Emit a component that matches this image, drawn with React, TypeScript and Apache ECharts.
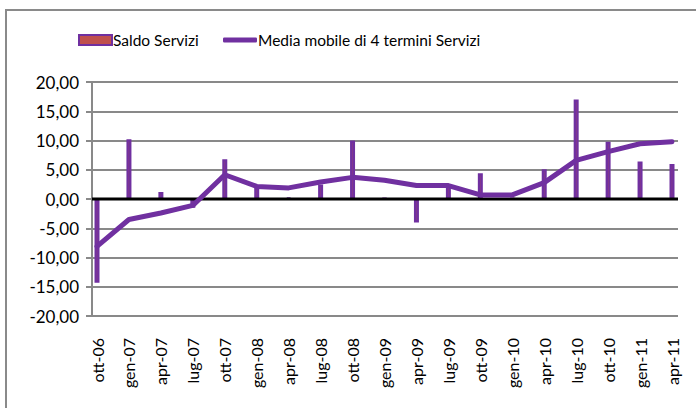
import React, { useEffect, useRef } from "react";
import * as echarts from "echarts";

const categories = ["ott-06","gen-07","apr-07","lug-07","ott-07","gen-08","apr-08","lug-08","ott-08","gen-09","apr-09","lug-09","ott-09","gen-10","apr-10","lug-10","ott-10","gen-11","apr-11"];
const saldoServizi = [-14.3, 10.2, 1.2, -1.5, 6.8, 2.0, 0.2, 2.5, 10.0, 0.1, -4.0, 2.3, 4.4, 0.1, 5.1, 17.0, 9.8, 6.4, 6.0];
const mediaMobile = [-8.1, -3.5, -2.4, -1.1, 4.15, 2.15, 1.9, 2.9, 3.7, 3.2, 2.3, 2.3, 0.7, 0.7, 2.8, 6.6, 8.1, 9.45, 9.8];
const zeroLine = [[0, 0], [1, 0]];

const PURPLE = "#7030A0";
const RED = "#C0504D";
const GRID = "#898989";
const FONT = "Lato";

export default function App() {
  const ref = useRef<HTMLDivElement>(null);
  useEffect(() => {
    document.body.style.margin = "0";
    const chart = echarts.init(ref.current!, null, { renderer: "svg" });
    const fmt = (v: number) => v.toFixed(2).replace(".", ",");
    chart.setOption({
      animation: false,
      backgroundColor: "#ffffff",
      textStyle: { fontFamily: FONT },
      graphic: [
        {
          type: "rect",
          shape: { x: 6, y: 10, width: 700, height: 410 },
          style: { fill: "none", stroke: "#8a8a8a", lineWidth: 2 },
          silent: true,
        },
      ],
      legend: [
        {
          left: 73,
          top: 27,
          itemWidth: 33,
          itemHeight: 10,
          itemGap: 0,
          data: [
            {
              name: "Saldo Servizi",
              icon: "rect",
              itemStyle: { color: RED, borderColor: PURPLE, borderWidth: 2 },
            },
          ],
          textStyle: { fontFamily: FONT, fontSize: 15.5, color: "#000", padding: [0, 0, 0, -4] },
        },
        {
          left: 218,
          top: 27,
          itemWidth: 34,
          itemHeight: 5,
          data: [{ name: "Media mobile di 4 termini Servizi", icon: "roundRect" }],
          textStyle: { fontFamily: FONT, fontSize: 15.5, color: "#000", padding: [0, 0, 0, -4] },
        },
      ],
      grid: [
        { left: 92, right: 18, top: 82, bottom: 92 },
        { left: 97, right: 24, top: 82, bottom: 92 },
      ],
      xAxis: [
        { type: "value", gridIndex: 0, min: 0, max: 1, show: false },
        {
          type: "category",
          gridIndex: 1,
          data: categories,
          boundaryGap: false,
          axisLine: { show: false },
          axisTick: { show: false },
          splitLine: { show: false },
          axisLabel: {
            interval: 0,
            rotate: 90,
            margin: 22,
            fontSize: 16,
            color: "#000",
            fontFamily: FONT,
          },
        },
      ],
      yAxis: [
        {
          type: "value",
          gridIndex: 0,
          min: -20,
          max: 20,
          interval: 5,
          axisLine: { show: true, lineStyle: { color: GRID, width: 2 } },
          axisTick: { show: true, length: 6, lineStyle: { color: GRID, width: 2 } },
          splitLine: { show: true, lineStyle: { color: GRID, width: 2 } },
          axisLabel: {
            formatter: fmt,
            fontSize: 17,
            color: "#000",
            margin: 13,
            fontFamily: FONT,
          },
        },
        {
          type: "value",
          gridIndex: 1,
          min: -20,
          max: 20,
          interval: 5,
          show: false,
          splitLine: { show: false },
        },
      ],
      series: [
        {
          name: "Saldo Servizi",
          type: "bar",
          xAxisIndex: 1,
          yAxisIndex: 1,
          data: saldoServizi,
          barWidth: 5,
          z: 2,
          itemStyle: { color: RED, borderColor: PURPLE, borderWidth: 2.4 },
        },
        {
          name: "zero",
          type: "line",
          xAxisIndex: 0,
          yAxisIndex: 0,
          data: zeroLine,
          symbol: "none",
          z: 3,
          lineStyle: { color: "#000", width: 3 },
          silent: true,
        },
        {
          name: "Media mobile di 4 termini Servizi",
          type: "line",
          xAxisIndex: 1,
          yAxisIndex: 1,
          data: mediaMobile,
          symbol: "none",
          z: 4,
          itemStyle: { color: PURPLE },
          lineStyle: { color: PURPLE, width: 5, cap: "round", join: "round" },
        },
      ],
    });
    return () => chart.dispose();
  }, []);
  return (
    <div
      ref={ref}
      style={{ position: "absolute", left: 0, top: 0, width: 696, height: 408 }}
    />
  );
}
